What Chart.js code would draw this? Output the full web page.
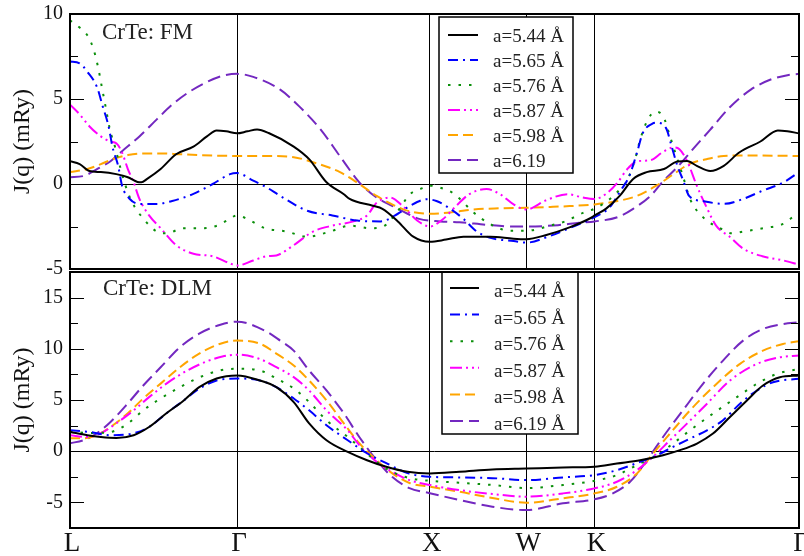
<!DOCTYPE html>
<html>
<head>
<meta charset="utf-8">
<script src="https://cdn.jsdelivr.net/npm/chart.js@4.4.1/dist/chart.umd.min.js"></script>
<style>
html, body { margin: 0; background: #fff; }
#wrap { position: relative; width: 804px; height: 556px; }
canvas { position: absolute; left: 0; top: 0; }
</style>
</head>
<body>
<div id="wrap">
  <canvas id="fm" width="804" height="556"></canvas>
  <canvas id="dlm" width="804" height="556"></canvas>
</div>
<script>
// high symmetry points along the path (path length, fcc)
const kLabels = ['L', 'Γ', 'X', 'W', 'K', 'Γ'];
const kPos = [0, 0.866, 1.866, 2.366, 2.720, 3.780];

const yTicksFM = [-5, -2.5, 0, 2.5, 5, 7.5, 10];
const yTicksDLM = [-7.5, -5, -2.5, 0, 2.5, 5, 7.5, 10, 12.5, 15, 17.5];

const fmNames = ['a=5.44 Å', 'a=5.65 Å', 'a=5.76 Å', 'a=5.87 Å', 'a=5.98 Å', 'a=6.19'];
const dlmNames = ['a=5.44 Å', 'a=5.65 Å', 'a=5.76 Å', 'a=5.87 Å', 'a=5.98 Å', 'a=6.19 Å'];

// J(q) in mRy, FM reference state  [q, J]
const fm544 = [[0,1.34],[0.05,1.17],[0.10,0.76],[0.16,0.7],[0.24,0.58],[0.30,0.4],[0.35,0.12],[0.37,0.1],[0.40,0.3],[0.47,0.88],[0.55,1.75],[0.64,2.2],[0.71,2.8],[0.76,3.15],[0.81,3.1],[0.866,2.98],[0.92,3.1],[0.97,3.2],[1.03,3.0],[1.16,2.2],[1.24,1.46],[1.33,0.1],[1.42,-0.6],[1.45,-0.88],[1.57,-1.28],[1.62,-1.46],[1.70,-2.2],[1.78,-3.1],[1.866,-3.4],[1.95,-3.27],[2.04,-3.1],[2.18,-3.1],[2.30,-3.22],[2.366,-3.25],[2.47,-3.0],[2.59,-2.55],[2.70,-2.0],[2.72,-1.85],[2.78,-1.45],[2.85,-0.7],[2.92,0.3],[2.99,0.7],[3.08,0.88],[3.15,1.33],[3.20,1.35],[3.25,1.07],[3.32,0.77],[3.39,1.07],[3.47,1.85],[3.58,2.5],[3.67,3.15],[3.72,3.1],[3.78,2.98]];
const fm565 = [[0,7.2],[0.05,7.1],[0.09,6.6],[0.14,5.7],[0.17,4.55],[0.20,3.4],[0.22,2.2],[0.25,1.05],[0.27,-0.1],[0.31,-0.88],[0.36,-1.17],[0.45,-1.17],[0.53,-1.0],[0.64,-0.58],[0.74,0],[0.83,0.58],[0.866,0.64],[0.95,0.2],[1.02,-0.2],[1.09,-0.7],[1.23,-1.57],[1.36,-1.85],[1.49,-2.15],[1.61,-2.2],[1.70,-1.75],[1.76,-1.3],[1.85,-0.9],[1.90,-1.0],[1.97,-1.45],[2.04,-2.05],[2.11,-2.8],[2.19,-3.2],[2.30,-3.35],[2.366,-3.45],[2.49,-3.05],[2.59,-2.6],[2.72,-1.95],[2.80,-1.35],[2.85,-0.47],[2.90,0.47],[2.94,1.85],[2.97,3.0],[3.02,3.55],[3.04,3.6],[3.09,3.3],[3.12,2.2],[3.15,1.05],[3.18,0.2],[3.21,-0.7],[3.28,-1.0],[3.39,-1.17],[3.49,-0.88],[3.59,-0.4],[3.70,0.1],[3.78,0.7]];
const fm576 = [[0,9.63],[0.05,9.2],[0.09,8.75],[0.12,8.0],[0.145,6.9],[0.166,5.65],[0.187,4.4],[0.207,3.2],[0.233,2.2],[0.259,1.05],[0.285,0],[0.321,-1.05],[0.389,-2.15],[0.451,-2.8],[0.503,-2.9],[0.586,-2.6],[0.69,-2.6],[0.762,-2.45],[0.814,-2.15],[0.866,-1.85],[0.918,-2.05],[1.011,-2.6],[1.125,-2.8],[1.229,-3.1],[1.348,-2.8],[1.452,-2.45],[1.556,-2.6],[1.623,-2.5],[1.696,-1.65],[1.763,-0.6],[1.815,-0.3],[1.866,-0.1],[1.929,-0.25],[1.981,-0.5],[2.022,-0.88],[2.09,-1.65],[2.178,-2.35],[2.281,-2.75],[2.366,-2.75],[2.489,-2.45],[2.567,-2.2],[2.66,-1.7],[2.72,-1.45],[2.80,-0.88],[2.852,-0.3],[2.888,0.2],[2.93,1.45],[2.956,2.6],[2.997,3.8],[3.033,4.25],[3.075,4.0],[3.111,2.8],[3.147,1.55],[3.178,0.47],[3.215,-0.88],[3.282,-1.95],[3.37,-2.6],[3.432,-2.9],[3.49,-2.8],[3.593,-2.6],[3.697,-2.35],[3.749,-1.95],[3.78,-1.85]];
const fm587 = [[0,4.67],[0.05,4.1],[0.10,3.4],[0.16,2.8],[0.21,2.5],[0.24,2.4],[0.27,1.85],[0.30,0.88],[0.33,0.1],[0.36,-0.88],[0.41,-1.85],[0.47,-2.6],[0.55,-3.6],[0.64,-4.1],[0.74,-4.25],[0.83,-4.67],[0.866,-4.8],[0.95,-4.5],[1.02,-4.25],[1.07,-4.2],[1.16,-3.6],[1.26,-2.8],[1.36,-2.45],[1.47,-2.2],[1.54,-1.85],[1.59,-1.1],[1.66,-0.8],[1.73,-1.35],[1.80,-2.15],[1.866,-2.5],[1.93,-2.1],[2.01,-1.2],[2.07,-0.6],[2.16,-0.3],[2.23,-0.6],[2.30,-1.2],[2.366,-1.5],[2.47,-0.95],[2.58,-0.6],[2.66,-0.8],[2.72,-0.88],[2.78,-0.58],[2.84,0.1],[2.89,0.88],[2.94,1.33],[3.01,1.4],[3.07,1.85],[3.13,2.15],[3.16,2.05],[3.20,1.35],[3.25,-0.1],[3.30,-1.35],[3.35,-2.45],[3.42,-3.1],[3.49,-3.8],[3.59,-4.25],[3.70,-4.5],[3.78,-4.75]];
const fm598 = [[0,0.7],[0.09,0.88],[0.16,1.17],[0.22,1.46],[0.30,1.7],[0.38,1.8],[0.47,1.8],[0.57,1.75],[0.67,1.7],[0.866,1.65],[1.02,1.65],[1.16,1.58],[1.26,1.28],[1.40,0.7],[1.50,0],[1.59,-0.7],[1.67,-1.2],[1.76,-1.6],[1.866,-1.75],[1.99,-1.65],[2.09,-1.5],[2.23,-1.43],[2.366,-1.4],[2.49,-1.35],[2.59,-1.3],[2.72,-1.2],[2.84,-1.0],[2.94,-0.7],[3.04,-0.1],[3.13,0.58],[3.21,1.17],[3.30,1.46],[3.39,1.65],[3.51,1.68],[3.78,1.65]];
const fm619 = [[0,0.4],[0.07,0.47],[0.14,0.88],[0.21,1.34],[0.27,1.93],[0.36,2.8],[0.45,3.8],[0.53,4.67],[0.62,5.43],[0.71,6.0],[0.79,6.36],[0.866,6.48],[0.95,6.3],[1.09,5.55],[1.19,4.55],[1.30,3.2],[1.40,1.63],[1.50,0.1],[1.59,-0.8],[1.67,-1.28],[1.75,-1.75],[1.81,-2.05],[1.92,-2.2],[2.02,-2.25],[2.16,-2.4],[2.30,-2.5],[2.366,-2.5],[2.53,-2.42],[2.64,-2.28],[2.72,-2.2],[2.84,-1.95],[2.92,-1.46],[3.01,-0.7],[3.07,0.1],[3.15,1.0],[3.23,2.05],[3.32,3.2],[3.42,4.5],[3.53,5.55],[3.63,6.13],[3.72,6.4],[3.78,6.48]];

// J(q) in mRy, DLM reference state
const dlm544 = [[0,1.88],[0.09,1.56],[0.16,1.39],[0.24,1.3],[0.33,1.56],[0.41,2.36],[0.50,3.7],[0.59,4.96],[0.67,6.25],[0.76,7.1],[0.866,7.4],[0.985,6.9],[1.07,6.25],[1.16,4.8],[1.24,2.72],[1.33,1.07],[1.44,-0.07],[1.54,-0.88],[1.64,-1.52],[1.75,-2.01],[1.866,-2.17],[2.02,-2.01],[2.19,-1.78],[2.366,-1.69],[2.556,-1.59],[2.72,-1.52],[2.836,-1.2],[2.956,-0.88],[3.075,-0.39],[3.163,0.1],[3.251,0.75],[3.334,1.72],[3.422,3.34],[3.51,4.96],[3.593,6.42],[3.681,7.23],[3.78,7.39]];
const dlm565 = [[0,2.04],[0.10,1.88],[0.21,1.56],[0.33,1.75],[0.41,2.36],[0.50,3.7],[0.59,4.96],[0.67,6.1],[0.76,6.9],[0.866,7.1],[0.985,6.9],[1.07,6.25],[1.16,5.15],[1.24,3.99],[1.33,2.53],[1.44,1.07],[1.54,-0.2],[1.64,-1.17],[1.75,-2.14],[1.866,-2.5],[2.02,-2.56],[2.19,-2.63],[2.366,-2.82],[2.556,-2.56],[2.72,-2.33],[2.836,-1.85],[2.956,-1.04],[3.044,-0.39],[3.127,0.42],[3.215,1.23],[3.303,2.04],[3.386,3.02],[3.474,4.64],[3.562,5.93],[3.645,6.74],[3.78,7.07]];
const dlm576 = [[0,1.88],[0.12,1.78],[0.21,1.88],[0.30,2.7],[0.38,4.0],[0.47,5.15],[0.57,6.25],[0.67,7.2],[0.78,7.9],[0.866,8.05],[0.985,7.88],[1.07,7.1],[1.16,6.13],[1.24,4.8],[1.33,3.02],[1.44,1.39],[1.52,0.1],[1.59,-1.04],[1.67,-2.01],[1.76,-2.63],[1.866,-2.89],[2.02,-3.08],[2.19,-3.3],[2.366,-3.6],[2.556,-3.3],[2.72,-2.89],[2.836,-2.33],[2.956,-1.2],[3.044,-0.39],[3.127,0.75],[3.215,2.04],[3.334,3.67],[3.458,5.28],[3.562,6.58],[3.666,7.56],[3.78,8.04]];
const dlm587 = [[0,1.56],[0.09,1.39],[0.16,1.75],[0.24,2.72],[0.33,3.99],[0.41,5.28],[0.50,6.6],[0.61,7.9],[0.71,8.78],[0.79,9.24],[0.866,9.43],[0.985,9.0],[1.07,8.2],[1.16,7.23],[1.24,5.93],[1.33,3.99],[1.44,2.04],[1.50,0.6],[1.59,-1.04],[1.67,-2.01],[1.76,-2.82],[1.866,-3.3],[2.02,-3.8],[2.19,-4.18],[2.366,-4.44],[2.556,-4.12],[2.72,-3.63],[2.836,-2.98],[2.94,-1.85],[3.023,-0.55],[3.111,1.07],[3.199,2.69],[3.303,4.64],[3.422,6.9],[3.562,8.53],[3.681,9.17],[3.78,9.34]];
const dlm598 = [[0,1.26],[0.07,1.26],[0.14,1.56],[0.21,2.36],[0.30,3.7],[0.38,5.15],[0.47,6.6],[0.57,8.2],[0.67,9.53],[0.78,10.5],[0.866,10.8],[0.985,10.5],[1.07,9.53],[1.16,8.37],[1.24,6.9],[1.33,4.96],[1.42,2.72],[1.50,0.78],[1.59,-0.88],[1.67,-2.14],[1.76,-3.1],[1.866,-3.47],[2.02,-3.96],[2.19,-4.57],[2.366,-5.03],[2.556,-4.6],[2.72,-4.12],[2.836,-3.47],[2.94,-2.17],[3.023,-0.23],[3.111,1.72],[3.215,3.99],[3.334,6.25],[3.474,8.53],[3.593,9.82],[3.697,10.47],[3.78,10.73]];
const dlm619 = [[0,0.78],[0.07,1.07],[0.14,1.75],[0.21,2.85],[0.30,4.67],[0.38,6.42],[0.47,8.2],[0.57,10.15],[0.67,11.48],[0.78,12.35],[0.866,12.65],[1.01,11.77],[1.09,10.8],[1.16,9.82],[1.24,7.88],[1.33,5.93],[1.42,3.7],[1.50,1.39],[1.59,-0.88],[1.67,-2.5],[1.76,-3.6],[1.866,-4.1],[2.02,-4.77],[2.19,-5.42],[2.366,-5.75],[2.556,-5.09],[2.72,-4.7],[2.815,-4.12],[2.904,-2.98],[2.992,-0.88],[3.075,1.39],[3.178,3.99],[3.282,6.58],[3.386,8.85],[3.49,10.8],[3.593,11.94],[3.697,12.42],[3.78,12.58]];

const lineStyles = [
  { color: '#000000', dash: [] },
  { color: '#0000ff', dash: [10, 5, 2, 5] },
  { color: '#0a8f0a', dash: [2.5, 8] },
  { color: '#ff00ff', dash: [12, 4, 2, 4, 2, 4] },
  { color: '#ffa500', dash: [10, 5] },
  { color: '#7328c0', dash: [13, 6] }
];

const serif = "'Liberation Serif', 'DejaVu Serif', serif";
Chart.defaults.font.family = serif;
Chart.defaults.color = '#111';

// frame, inner ticks, panel title and boxed legend
const panelDeco = {
  id: 'panelDeco',
  afterDatasetsDraw(chart, args, opts) {
    const ctx = chart.ctx, a = chart.chartArea, ys = chart.scales.y;
    ctx.save();
    ctx.strokeStyle = '#000';
    ctx.lineWidth = 1;
    ys.ticks.forEach(t => {
      if (t.value <= ys.min || t.value >= ys.max) return;
      const py = Math.round(ys.getPixelForValue(t.value)) + 0.5;
      const len = t.value % 5 === 0 ? 14 : 8;
      ctx.beginPath();
      ctx.moveTo(a.left, py); ctx.lineTo(a.left + len, py);
      ctx.moveTo(a.right - len, py); ctx.lineTo(a.right, py);
      ctx.stroke();
    });

    const lg = opts.legend;
    ctx.fillStyle = '#fff';
    ctx.fillRect(lg.x, lg.y, lg.w, lg.h);
    ctx.lineWidth = 1.5;
    ctx.strokeRect(lg.x, lg.y, lg.w, lg.h);
    ctx.font = '19px ' + serif;
    ctx.textBaseline = 'alphabetic';
    chart.data.datasets.forEach((ds, i) => {
      const yy = lg.row0 + i * lg.gap;
      ctx.strokeStyle = ds.borderColor;
      ctx.lineWidth = 2;
      ctx.setLineDash(ds.borderDash);
      ctx.beginPath();
      ctx.moveTo(lg.line0, yy); ctx.lineTo(lg.line1, yy);
      ctx.stroke();
      ctx.setLineDash([]);
      ctx.fillStyle = '#222';
      ctx.fillText(ds.label, lg.text, yy + lg.textDy);
    });

    ctx.fillStyle = '#222';
    ctx.font = '23px ' + serif;
    ctx.fillText(opts.title, opts.titleX, opts.titleY);

    ctx.strokeStyle = '#000';
    ctx.lineWidth = 2;
    ctx.strokeRect(a.left, a.top, a.right - a.left, a.bottom - a.top);
    ctx.restore();
  }
};

function makePanel(id, series, names, yTicks, pad, showX, deco) {
  return new Chart(document.getElementById(id), {
    type: 'line',
    data: {
      datasets: series.map((s, i) => ({
        label: names[i],
        data: s,
        borderColor: lineStyles[i].color,
        borderDash: lineStyles[i].dash,
        borderWidth: 2,
        pointRadius: 0,
        fill: false,
        cubicInterpolationMode: 'monotone'
      }))
    },
    options: {
      responsive: false,
      animation: false,
      events: [],
      layout: { padding: pad },
      plugins: { legend: { display: false }, tooltip: { enabled: false }, panelDeco: deco },
      scales: {
        x: {
          type: 'linear', min: 0, max: 3.78,
          afterBuildTicks: s => { s.ticks = kPos.map(v => ({ value: v })); },
          afterFit: s => { s.height = showX ? 28 : 0; s.paddingLeft = 0; s.paddingRight = 0; },
          ticks: {
            display: showX, autoSkip: false, maxRotation: 0, padding: 0, labelOffset: 2,
            font: { size: 27 }, color: '#111',
            callback: (v, i) => kLabels[i]
          },
          grid: { color: '#000', lineWidth: 1, drawTicks: false },
          border: { display: false }
        },
        y: {
          min: yTicks[0], max: yTicks[yTicks.length - 1],
          afterBuildTicks: s => { s.ticks = yTicks.map(v => ({ value: v })); },
          afterFit: s => { s.width = 70; s.paddingTop = 0; s.paddingBottom = 0; },
          ticks: {
            autoSkip: false, padding: 7, font: { size: 20 }, color: '#111',
            callback: v => (v % 5 === 0 ? v : '')
          },
          grid: {
            drawTicks: false, lineWidth: 1,
            color: c => (c.tick && c.tick.value === 0 ? '#000' : 'rgba(0,0,0,0)')
          },
          border: { display: false },
          title: { display: true, text: 'J(q) (mRy)', font: { size: 24 }, color: '#111', padding: { top: 8, bottom: 0 } }
        }
      }
    },
    plugins: [panelDeco]
  });
}

makePanel('fm', [fm544, fm565, fm576, fm587, fm598, fm619], fmNames, yTicksFM,
  { top: 14, bottom: 287, left: 0, right: 5 }, false,
  { title: 'CrTe: FM', titleX: 102, titleY: 39,
    legend: { x: 439, y: 17, w: 134, h: 156, row0: 35, gap: 25, line0: 448, line1: 478, text: 493, textDy: 7 } });

makePanel('dlm', [dlm544, dlm565, dlm576, dlm587, dlm598, dlm619], dlmNames, yTicksDLM,
  { top: 272, bottom: 0, left: 0, right: 5 }, true,
  { title: 'CrTe: DLM', titleX: 103, titleY: 295,
    legend: { x: 442, y: 272, w: 136, h: 162, row0: 288, gap: 26.6, line0: 450, line1: 479, text: 494, textDy: 9 } });
</script>
</body>
</html>
